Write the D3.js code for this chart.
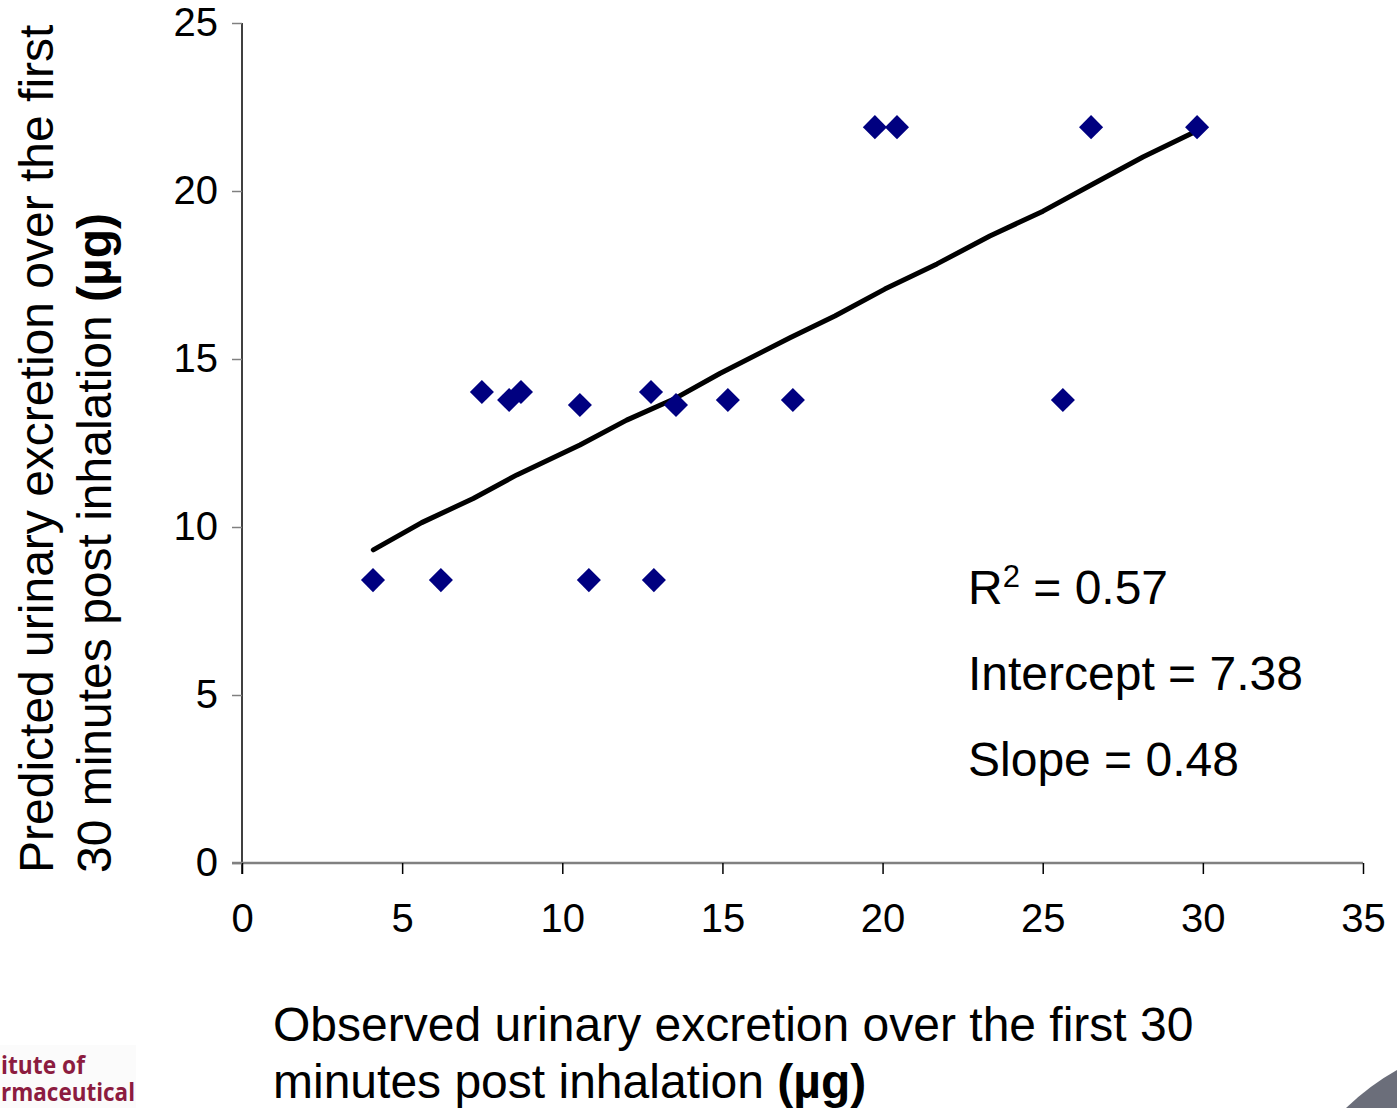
<!DOCTYPE html>
<meta charset="utf-8">
<style>
html, body { margin: 0; padding: 0; background: #fff; }
svg { display: block; font-family: Arial, "Liberation Sans", sans-serif; }
</style>
<body>
<script src="https://d3js.org/d3.v7.min.js"></script>
<script>

var width = 1397,
    height = 1108;

// observed vs predicted (µg)
var observed  = [4.09, 6.21, 7.49, 8.34, 8.71, 10.55, 10.83, 12.77, 12.86, 13.55, 15.17, 17.20, 19.76, 20.45, 25.63, 26.51, 29.82];
var predicted = [8.42, 8.42, 14.02, 13.78, 14.02, 13.63, 8.42, 14.02, 8.42, 13.63, 13.78, 13.78, 21.9, 21.9, 13.78, 21.9, 21.9];

// fitted line as drawn
var fitX = [4.10, 5.61, 7.22, 8.58, 10.55, 12.01, 13.47, 14.92, 17.11, 18.51, 20.07, 21.70, 23.35, 25.01, 26.57, 28.13, 29.82];
var fitY = [9.32, 10.13, 10.85, 11.55, 12.44, 13.18, 13.80, 14.57, 15.63, 16.28, 17.08, 17.83, 18.66, 19.40, 20.21, 21.01, 21.79];

var xTicks = [0, 5, 10, 15, 20, 25, 30, 35];
var yTicks = [0, 5, 10, 15, 20, 25];
var stats = ["= 0.57", "Intercept = 7.38", "Slope = 0.48"];

var svg = d3.select("body").append("svg")
    .attr("width", width)
    .attr("height", height);

var x = d3.scaleLinear().domain([0, 35]).range([242, 1363]);
var y = d3.scaleLinear().domain([0, 25]).range([863, 23]);

// y axis
var gy = svg.append("g")
    .attr("transform", "translate(242,0)")
    .call(d3.axisLeft(y).tickValues(yTicks).tickSize(10).tickSizeOuter(0).tickPadding(14));
gy.select(".domain").attr("stroke", "#000").attr("stroke-width", 1.5).attr("d", "M0,23V874");
gy.selectAll(".tick line").attr("stroke", "#808080").attr("stroke-width", 1.5);
gy.selectAll(".tick text").attr("font-size", 40).attr("fill", "#000").attr("font-family", "Arial, Liberation Sans, sans-serif");

// x axis
var gx = svg.append("g")
    .attr("transform", "translate(0,863)")
    .call(d3.axisBottom(x).tickValues(xTicks).tickSize(11).tickSizeOuter(0).tickPadding(30));
gx.select(".domain").attr("stroke", "#808080").attr("stroke-width", 2.5).attr("d", "M232,0H1363");
gx.selectAll(".tick line").attr("stroke", "#000").attr("stroke-width", 1.5);
gx.selectAll(".tick text").attr("font-size", 40).attr("fill", "#000").attr("font-family", "Arial, Liberation Sans, sans-serif");

// trend line
var line = d3.line()
    .x(function(d, i) { return x(fitX[i]); })
    .y(function(d, i) { return y(fitY[i]); });

svg.append("path")
    .datum(fitX)
    .attr("fill", "none")
    .attr("stroke", "#000")
    .attr("stroke-width", 5)
    .attr("stroke-linejoin", "round")
    .attr("stroke-linecap", "round")
    .attr("d", line);

// points
var diamond = d3.symbol().type(d3.symbolSquare).size(290);
svg.append("g").selectAll("path")
    .data(observed)
    .enter().append("path")
    .attr("d", diamond)
    .attr("fill", "#000080")
    .attr("transform", function(d, i) {
      return "translate(" + x(d) + "," + y(predicted[i]) + ") rotate(45)";
    });

// stats text
var st = svg.append("g").attr("font-size", 48).attr("fill", "#000");
var r2 = st.append("text").attr("x", 968).attr("y", 604);
r2.append("tspan").text("R");
r2.append("tspan").attr("font-size", 31).attr("dy", -17).text("2");
r2.append("tspan").attr("dy", 17).text(" " + stats[0]);
st.append("text").attr("x", 968).attr("y", 690).text(stats[1]);
st.append("text").attr("x", 968).attr("y", 776).text(stats[2]);

// axis titles
var xt = svg.append("g").attr("font-size", 48).attr("fill", "#000");
xt.append("text").attr("x", 273).attr("y", 1041).text("Observed urinary excretion over the first 30");
var xt2 = xt.append("text").attr("x", 273).attr("y", 1098);
xt2.append("tspan").text("minutes post inhalation ");
xt2.append("tspan").attr("font-weight", "bold").text("(µg)");

var yt = svg.append("g").attr("font-size", 48).attr("fill", "#000")
    .attr("transform", "translate(0,873) rotate(-90)");
yt.append("text").attr("x", 0).attr("y", 53).text("Predicted urinary excretion over the first");
var yt2 = yt.append("text").attr("x", 0).attr("y", 111);
yt2.append("tspan").text("30 minutes post inhalation ");
yt2.append("tspan").attr("font-weight", "bold").text("(µg)");

// slide decorations
svg.append("rect").attr("x", 0).attr("y", 1045).attr("width", 136).attr("height", 63).attr("fill", "#fbfbfb");
var logo = svg.append("g").attr("font-size", 25).attr("font-weight", "bold").attr("fill", "#8c1c40")
    .attr("font-family", "Open Sans, Liberation Sans, sans-serif");
logo.append("text").attr("x", 1).attr("y", 1074).attr("textLength", 84).attr("lengthAdjust", "spacingAndGlyphs").text("itute of");
logo.append("text").attr("x", 1).attr("y", 1101).attr("textLength", 134).attr("lengthAdjust", "spacingAndGlyphs").text("rmaceutical");
svg.append("path")
    .attr("d", "M1346,1108 Q1370,1085 1397,1070 L1397,1108 Z")
    .attr("fill", "#6b6e7a");

</script>
</body>
